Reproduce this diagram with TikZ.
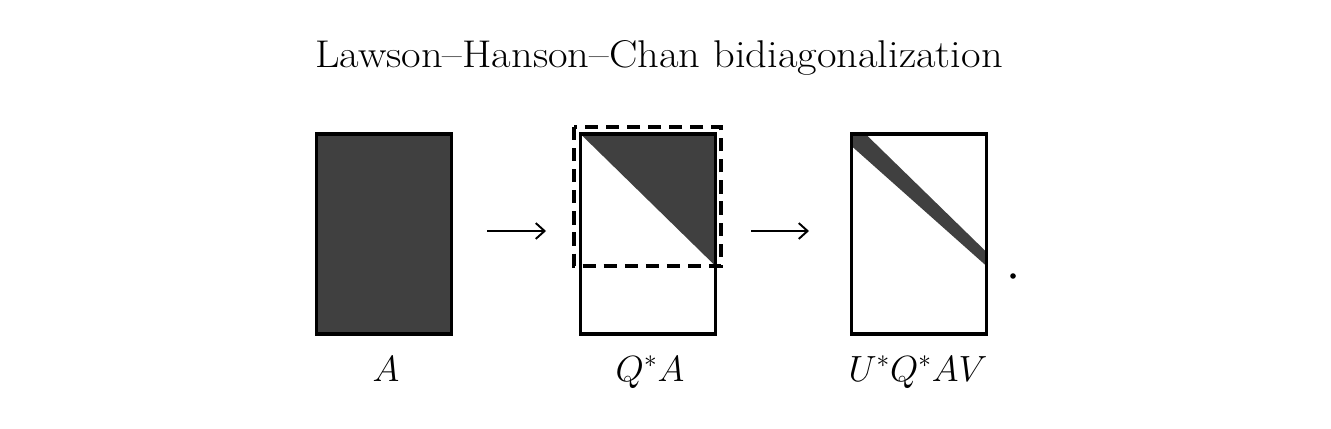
\documentclass[tikz,border=0pt]{standalone}
\usetikzlibrary{calc,arrows.meta}
\begin{document}
\begin{tikzpicture}[x=0.02cm,y=-0.02cm,
  mat/.style={draw=black,line width=1.9pt,minimum width=2.7cm,minimum height=4cm,inner sep=0pt,outer sep=0pt},
  shade/.style={fill=black!75},
  dashbox/.style={draw=black,line width=2pt,dash pattern=on 7.5pt off 4.5pt},
  conn/.style={line width=1.1pt,-{Straight Barb[length=5pt,width=9pt,line width=1.1pt]}},
  lab/.style={anchor=base,font=\fontsize{22.5}{26}\selectfont},
  ttl/.style={anchor=base,transform shape,xscale=1.1,font=\fontsize{22}{26}\selectfont}]
\useasboundingbox (0,0) rectangle (1331,429);
% title
\node[ttl] (title) at (659,68) {Lawson--Hanson--Chan bidiagonalization};
% matrices
\node[mat,fill=black!75] (A) at (384,234) {};
\node[mat] (B) at (648,234) {};
\node[mat] (C) at (919,234) {};
% Q*A triangle
\coordinate (Bd) at ($(B.north east)+(0,132)$);
\fill[shade] (B.north west) -- (B.north east) -- (Bd) -- cycle;
\node[mat] at (B) {};
\coordinate (Dtl) at (574,127);
\coordinate (Dbr) at (721,266);
\draw[dashbox] (Dtl) rectangle (Dbr);
% U*Q*AV band
\fill[shade] (C.north west) -- ($(C.north west)+(14,0)$) -- ($(C.north east)+(0,118)$) -- ($(C.north east)+(0,132)$) -- ($(C.north west)+(0,12)$) -- cycle;
\node[mat] at (C) {};
% arrows
\coordinate (a1s) at (487,231);
\coordinate (a1e) at (546,231);
\coordinate (a2s) at (751,231);
\coordinate (a2e) at (809,231);
\draw[conn] (a1s) -- (a1e);
\draw[conn] (a2s) -- (a2e);
% dot
\fill (1013,276) circle[radius=2.8];
% labels
\node[lab] (lA) at (386,381) {$A$};
\node[lab] (lB) at (650,381) {$Q^*A$};
\node[lab] (lC) at (918,381) {$U^*Q^*AV$};
\end{tikzpicture}
\end{document}
